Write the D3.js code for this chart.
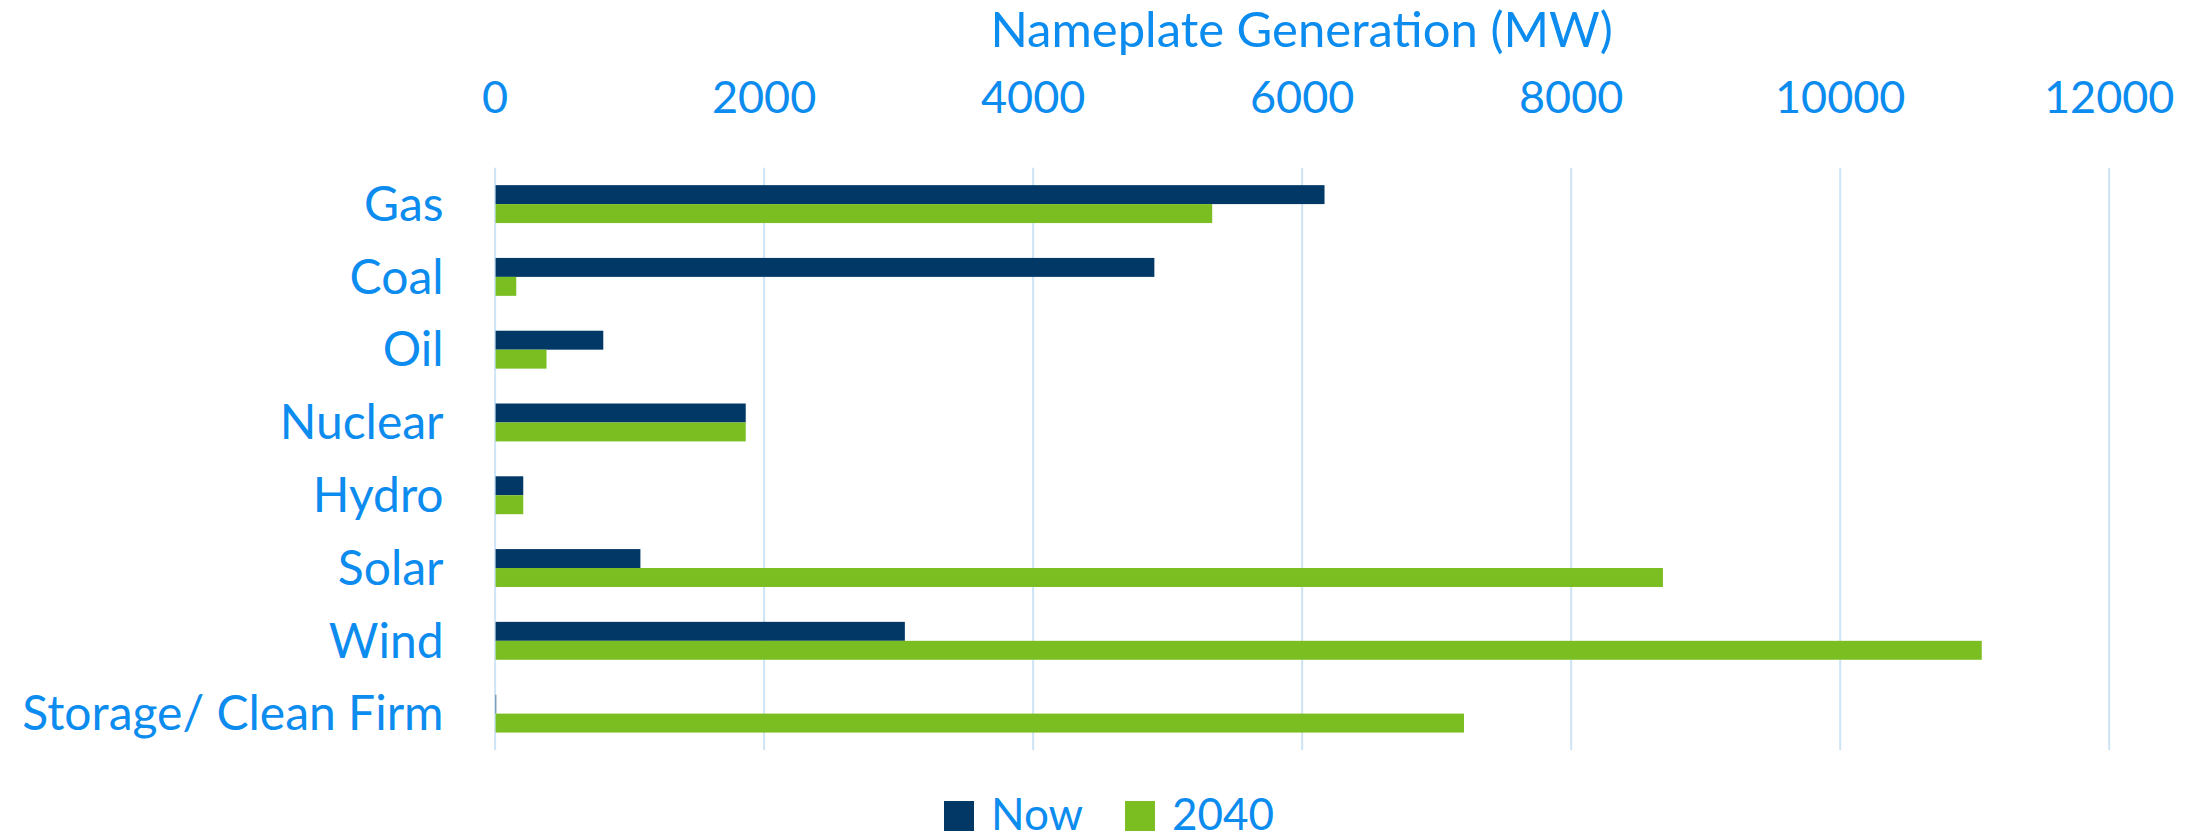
<!DOCTYPE html>
<html>
<head>
<meta charset="utf-8">
<script src="https://cdn.jsdelivr.net/npm/d3@7"></script>
<style>
  body { margin: 0; background: #fff; }
  svg text { font-family: Lato, "Open Sans", sans-serif; fill: #0C8CEE; }
</style>
</head>
<body>
<svg></svg>
<script>
const width = 2206;
const height = 839;
const margin = { top: 167.7, right: 2206 - 2108.7, bottom: 839 - 750, left: 494.6 };

// data
const categories = ['Gas', 'Coal', 'Oil', 'Nuclear', 'Hydro', 'Solar', 'Wind', 'Storage/ Clean Firm'];
const nowValues = [6170, 4905, 808, 1867, 213, 1084, 3050, 12];
const y2040Values = [5335, 161, 386, 1867, 213, 8686, 11056, 7207];
const seriesNames = ['Now', '2040'];
const xTicks = [0, 2000, 4000, 6000, 8000, 10000, 12000];

const colors = { Now: '#023866', '2040': '#7BBE22' };
const gridColor = '#CDE4F6';
const tickSize = 45;
const labelSize = 48;

const rows = categories.map((c, i) => ({ cat: c, Now: nowValues[i], '2040': y2040Values[i] }));

const svg = d3.select('svg')
  .attr('width', width)
  .attr('height', height);

const xScale = d3.scaleLinear()
  .domain([0, 12000])
  .range([margin.left, width - margin.right]);

const yScale = d3.scaleBand()
  .domain(categories)
  .range([margin.top, height - margin.bottom]);

// excel-style gap width of 90%
const groupH = yScale.bandwidth() / 1.92;
const ySub = d3.scaleBand()
  .domain(seriesNames)
  .range([0, groupH]);

// ====================================
// Grid + top axis
// ====================================
const xAxis = d3.axisTop(xScale)
  .tickValues(xTicks)
  .tickFormat(d3.format('d'))
  .tickSizeInner(-(height - margin.bottom - margin.top))
  .tickSizeOuter(0)
  .tickPadding(55);

const gx = svg.append('g')
  .attr('transform', `translate(0, ${margin.top})`)
  .call(xAxis);
gx.select('.domain').remove();
gx.selectAll('line').attr('stroke', gridColor).attr('stroke-width', 2);
gx.selectAll('text')
  .attr('font-size', tickSize)
  .style('font-family', 'Lato, sans-serif')
  .attr('fill', '#0C8CEE');

// ====================================
// Category axis
// ====================================
const yAxis = d3.axisLeft(yScale)
  .tickSize(0)
  .tickPadding(51);

const gy = svg.append('g')
  .attr('transform', `translate(${margin.left}, 0)`)
  .call(yAxis);
gy.select('.domain').remove();
gy.selectAll('text')
  .attr('font-size', labelSize)
  .attr('dy', '0.35em')
  .style('font-family', 'Lato, sans-serif')
  .attr('fill', '#0C8CEE');

// ====================================
// Bars
// ====================================
const groups = svg.append('g')
  .selectAll('g')
  .data(rows)
  .enter()
  .append('g')
  .attr('transform', d => `translate(0, ${yScale(d.cat) + (yScale.bandwidth() - groupH) / 2})`);

groups.selectAll('rect')
  .data(d => seriesNames.map(s => ({ s, v: d[s] })))
  .enter()
  .append('rect')
  .attr('x', xScale(0) + 1)
  .attr('y', d => ySub(d.s))
  .attr('width', d => Math.max(0, xScale(d.v) - xScale(0) - 1))
  .attr('height', ySub.bandwidth())
  .attr('fill', d => colors[d.s]);

// ====================================
// Title
// ====================================
svg.append('text')
  .text('Nameplate Generation (MW)')
  .attr('x', (xScale(0) + xScale(12000)) / 2)
  .attr('y', 47)
  .attr('text-anchor', 'middle')
  .attr('font-size', 49);

// ====================================
// Legend
// ====================================
const legendX = [944, 1125];
const legend = svg.append('g')
  .selectAll('g')
  .data(seriesNames)
  .enter()
  .append('g')
  .attr('transform', (d, i) => `translate(${legendX[i]}, 801)`);

legend.append('rect')
  .attr('width', 30)
  .attr('height', 30)
  .attr('fill', d => colors[d]);

legend.append('text')
  .text(d => d)
  .attr('x', 47)
  .attr('y', 29)
  .attr('font-size', 44);
</script>
</body>
</html>
